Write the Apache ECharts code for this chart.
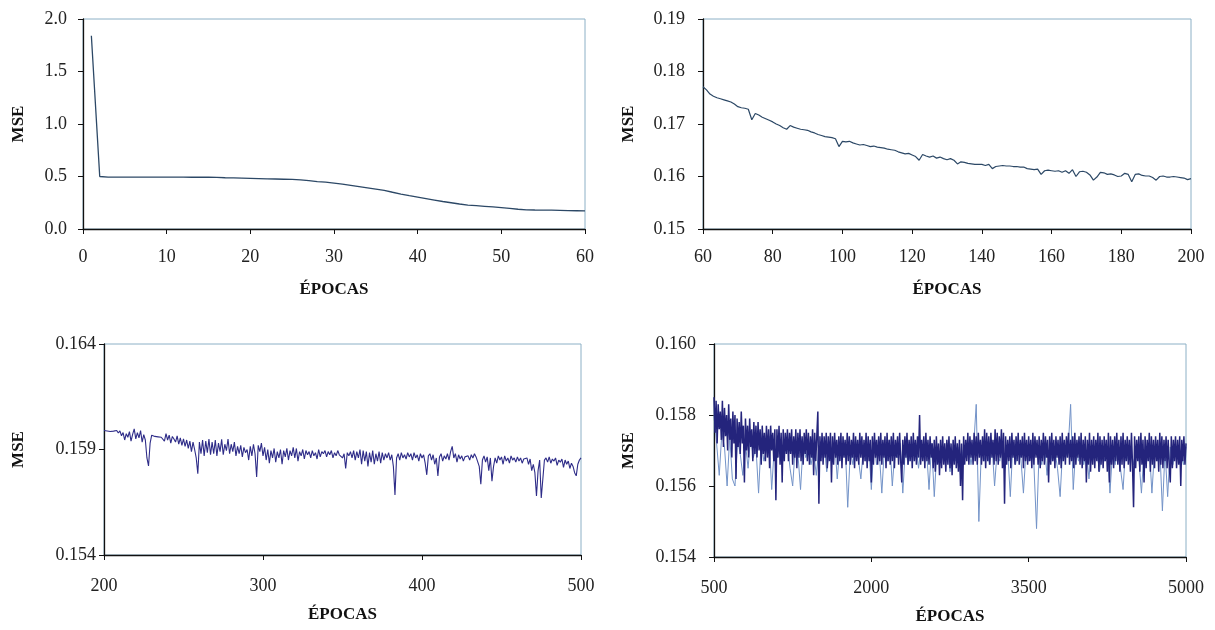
<!DOCTYPE html>
<html>
<head>
<meta charset="utf-8">
<script src="https://cdn.jsdelivr.net/npm/echarts@6/dist/echarts.min.js"></script>
<style>
html,body{margin:0;padding:0;background:#fff;}
#c{width:1215px;height:630px;}
</style>
</head>
<body>
<div id="c"></div>
<script>
// ---------- DATA ----------
// Panel 1: epochs 1..60
const p1Start = 1, p1Step = 1;
const p1Values = [1.84,0.50,0.495,0.495,0.495,0.495,0.495,0.494,0.494,0.494,
0.494,0.494,0.493,0.493,0.493,0.492,0.488,0.486,0.484,0.482,
0.480,0.478,0.476,0.474,0.472,0.468,0.460,0.452,0.446,0.437,
0.428,0.416,0.404,0.392,0.380,0.368,0.350,0.333,0.318,0.304,
0.290,0.276,0.262,0.250,0.238,0.228,0.222,0.216,0.210,0.204,
0.196,0.188,0.183,0.181,0.180,0.179,0.177,0.175,0.174,0.173];

// Panel 2: epochs 60..200
const p2Start = 60, p2Step = 1;
const p2Values = [.1771,.1765,.1757,.1753,.1750,.1748,.1746,.1744,.1742,.1738,
.1733,.1731,.1730,.1728,.1708,.1720,.1717,.1713,.1710,.1707,
.1704,.1700,.1697,.1693,.1690,.1697,.1694,.1692,.1690,.1689,
.1688,.1685,.1683,.1680,.1678,.1676,.1675,.1674,.1672,.1657,
.1667,.1666,.1667,.1664,.1662,.1660,.1661,.1659,.1657,.1658,
.1656,.1655,.1654,.1652,.1651,.1650,.1647,.1645,.1643,.1644,
.1641,.1638,.1631,.1642,.1639,.1637,.1639,.1635,.1637,.1634,
.1632,.1634,.1631,.1624,.1628,.1627,.1625,.1624,.1623,.1623,
.1623,.1621,.1623,.1615,.1619,.1620,.1621,.1620,.1620,.1619,
.1619,.1618,.1618,.1615,.1614,.1613,.1614,.1604,.1611,.1612,
.1611,.1610,.1611,.1608,.1611,.1606,.1613,.1600,.1609,.1610,
.1608,.1603,.1593,.1599,.1608,.1607,.1604,.1605,.1603,.1600,
.1601,.1606,.1604,.1590,.1604,.1605,.1602,.1601,.1601,.1598,
.1593,.1600,.1601,.1599,.1599,.1600,.1599,.1598,.1597,.1594,
.1596];

// Panel 3: epochs 200..500
const p3Start = 200, p3Step = 1;
const p3Values = [
.15990,.15992,.15988,.15991,.15985,.15990,.15987,.15982,.15990,.15978,
.15988,.15965,.15980,.15945,.15975,.15958,.15985,.15940,.15972,.15998,
.15950,.15980,.15955,.15990,.15935,.15970,.15945,.15860,.15822,.15930,
.15968,.15965,.15962,.15966,.15960,.15963,.15958,.15965,.15940,.15975,
.15945,.15968,.15930,.15962,.15950,.15935,.15965,.15925,.15955,.15920,
.15950,.15915,.15945,.15905,.15940,.15890,.15935,.15900,.15860,.15785,
.15935,.15880,.15945,.15870,.15940,.15885,.15950,.15875,.15935,.15880,
.15945,.15870,.15930,.15890,.15948,.15875,.15925,.15895,.15950,.15880,
.15925,.15890,.15935,.15870,.15915,.15880,.15920,.15865,.15910,.15885,
.15900,.15850,.15915,.15870,.15925,.15880,.15770,.15920,.15890,.15930,
.15870,.15910,.15850,.15900,.15835,.15895,.15860,.15905,.15840,.15890,
.15860,.15900,.15830,.15895,.15865,.15905,.15850,.15895,.15870,.15910,
.15860,.15905,.15845,.15890,.15870,.15900,.15855,.15895,.15875,.15890,
.15860,.15895,.15870,.15885,.15855,.15900,.15865,.15890,.15880,.15895,
.15865,.15890,.15875,.15895,.15860,.15885,.15870,.15895,.15875,.15880,
.15860,.15880,.15810,.15885,.15870,.15890,.15860,.15895,.15850,.15890,
.15860,.15900,.15830,.15895,.15845,.15890,.15820,.15885,.15840,.15895,
.15830,.15880,.15845,.15890,.15835,.15885,.15850,.15880,.15860,.15885,
.15850,.15875,.15820,.15685,.15860,.15880,.15850,.15885,.15860,.15875,
.15855,.15885,.15865,.15880,.15850,.15885,.15860,.15875,.15845,.15880,
.15860,.15875,.15835,.15780,.15870,.15880,.15850,.15875,.15830,.15860,
.15775,.15865,.15880,.15845,.15870,.15855,.15880,.15850,.15890,.15915,
.15860,.15880,.15840,.15875,.15855,.15870,.15845,.15865,.15860,.15870,
.15850,.15875,.15860,.15880,.15865,.15870,.15820,.15735,.15850,.15870,
.15840,.15865,.15800,.15860,.15750,.15820,.15860,.15835,.15870,.15850,
.15865,.15830,.15870,.15845,.15860,.15835,.15870,.15850,.15860,.15840,
.15865,.15845,.15860,.15835,.15855,.15850,.15860,.15830,.15855,.15800,
.15830,.15790,.15680,.15800,.15850,.15670,.15760,.15850,.15860,.15840,
.15865,.15835,.15855,.15845,.15860,.15825,.15850,.15840,.15855,.15815,
.15850,.15830,.15845,.15810,.15835,.15820,.15790,.15775,.15830,.15850,
.15860];

// Panel 4: epochs 500..5000, dark series every 10 epochs
const p4Start = 500, p4DarkStep = 10, p4LightStep = 25;
const p4Dark = [
.1585,.1575,.1584,.1572,.1583,.1576,.1581,.1573,.1584,.1571,
.1582,.1574,.1580,.1570,.1583,.1573,.1579,.1568,.1581,.1572,
.1580,.1562,.1579,.1571,.1578,.1569,.1581,.1572,.1577,.1561,
.1579,.1570,.1577,.1568,.1579,.1571,.1576,.1567,.1578,.1569,
.1577,.1568,.1578,.1570,.1576,.1566,.1577,.1569,.1575,.1567,
.1577,.1568,.1576,.1565,.1577,.1570,.1575,.1567,.1576,.1556,
.1576,.1568,.1577,.1566,.1575,.1561,.1576,.1567,.1575,.1569,
.1576,.1567,.1575,.1569,.1576,.1566,.1574,.1568,.1576,.1565,
.1575,.1568,.1576,.1567,.1574,.1566,.1575,.1569,.1576,.1567,
.1575,.1566,.1574,.1568,.1576,.1563,.1575,.1567,.1574,.1581,
.1555,.1574,.1567,.1575,.1566,.1574,.1568,.1575,.1565,.1574,
.1567,.1575,.1561,.1574,.1566,.1575,.1568,.1573,.1566,.1574,
.1567,.1575,.1565,.1574,.1568,.1573,.1566,.1575,.1567,.1574,
.1566,.1573,.1568,.1575,.1565,.1574,.1567,.1573,.1566,.1575,
.1568,.1574,.1566,.1573,.1567,.1575,.1565,.1574,.1567,.1573,
.1561,.1574,.1566,.1575,.1568,.1573,.1566,.1574,.1567,.1575,
.1566,.1573,.1568,.1574,.1565,.1575,.1567,.1573,.1566,.1574,
.1567,.1575,.1565,.1573,.1568,.1574,.1566,.1575,.1567,.1561,
.1573,.1566,.1574,.1568,.1575,.1566,.1573,.1567,.1574,.1565,
.1575,.1567,.1573,.1566,.1574,.1568,.1580,.1566,.1573,.1567,
.1574,.1565,.1575,.1567,.1573,.1566,.1574,.1568,.1572,.1565,
.1573,.1564,.1574,.1566,.1572,.1563,.1573,.1565,.1574,.1566,
.1572,.1564,.1573,.1566,.1574,.1565,.1572,.1563,.1573,.1566,
.1574,.1565,.1572,.1564,.1573,.1560,.1572,.1556,.1574,.1566,
.1573,.1567,.1575,.1566,.1574,.1568,.1573,.1566,.1575,.1567,
.1574,.1566,.1575,.1568,.1573,.1566,.1574,.1567,.1576,.1565,
.1575,.1567,.1574,.1566,.1575,.1568,.1573,.1566,.1576,.1567,
.1575,.1566,.1574,.1568,.1576,.1565,.1575,.1555,.1574,.1566,
.1573,.1567,.1574,.1565,.1575,.1568,.1573,.1566,.1574,.1567,
.1575,.1566,.1573,.1568,.1574,.1565,.1575,.1567,.1573,.1566,
.1574,.1567,.1573,.1565,.1575,.1566,.1574,.1568,.1573,.1566,
.1574,.1565,.1573,.1567,.1575,.1566,.1574,.1568,.1573,.1561,
.1574,.1566,.1575,.1567,.1573,.1565,.1574,.1568,.1573,.1566,
.1574,.1565,.1575,.1567,.1573,.1566,.1574,.1568,.1575,.1566,
.1573,.1567,.1574,.1565,.1575,.1566,.1573,.1568,.1574,.1566,
.1575,.1565,.1573,.1567,.1574,.1561,.1573,.1566,.1575,.1564,
.1573,.1566,.1574,.1565,.1573,.1567,.1575,.1564,.1574,.1566,
.1573,.1565,.1574,.1567,.1573,.1564,.1575,.1561,.1574,.1566,
.1573,.1565,.1574,.1567,.1575,.1566,.1573,.1564,.1574,.1566,
.1575,.1565,.1573,.1567,.1574,.1566,.1573,.1564,.1575,.1566,
.1554,.1574,.1565,.1573,.1567,.1574,.1564,.1575,.1566,.1573,
.1561,.1574,.1565,.1573,.1567,.1575,.1564,.1574,.1566,.1573,
.1565,.1574,.1567,.1573,.1564,.1575,.1566,.1574,.1565,.1573,
.1567,.1574,.1565,.1573,.1566,.1561,.1574,.1565,.1573,.1567,
.1574,.1565,.1573,.1566,.1574,.1560,.1573,.1567,.1574,.1566,
.1572];
// Panel 4: light series every 25 epochs
const p4Light = [
.1580,.1572,.1563,.1575,
.1571,.1560,.1574,.1562,
.1560,.1573,.1569,.1563,
.1572,.1565,.1574,.1568,
.1571,.1558,.1573,.1567,
.1570,.1574,.1559,.1571,
.1568,.1573,.1566,.1570,
.1572,.1565,.1560,.1571,
.1569,.1559,.1572,.1568,
.1571,.1566,.1570,.1563,
.1571,.1568,.1572,.1564,
.1570,.1567,.1573,.1562,
.1571,.1568,.1572,.1554,
.1570,.1566,.1573,.1568,
.1562,.1571,.1567,.1572,
.1559,.1572,.1566,.1570,
.1558,.1571,.1567,.1573,
.1560,.1570,.1568,.1572,
.1558,.1571,.1566,.1570,
.1569,.1572,.1565,.1571,
.1568,.1571,.1559,.1572,
.1557,.1570,.1566,.1571,
.1569,.1572,.1564,.1570,
.1567,.1571,.1563,.1570,
.1568,.1572,.1566,.1571,
.1583,.1550,.1571,.1567,
.1571,.1566,.1572,.1560,
.1570,.1567,.1571,.1565,
.1570,.1557,.1572,.1566,
.1571,.1568,.1558,.1570,
.1567,.1571,.1566,.1548,
.1570,.1566,.1572,.1563,
.1571,.1567,.1570,.1565,
.1557,.1571,.1568,.1570,
.1583,.1559,.1571,.1567,
.1571,.1566,.1570,.1562,
.1571,.1568,.1570,.1564,
.1570,.1567,.1571,.1558,
.1570,.1566,.1572,.1565,
.1559,.1571,.1567,.1570,
.1566,.1571,.1568,.1558,
.1570,.1567,.1571,.1558,
.1570,.1567,.1571,.1553,
.1570,.1557,.1571,.1566,
.1571,.1568,.1570,.1566,
.1571];

// Tick labels
const p1XTicks = [0,10,20,30,40,50,60];
const p1YTicks = [0.0,0.5,1.0,1.5,2.0];
const p2XTicks = [60,80,100,120,140,160,180,200];
const p2YTicks = [0.15,0.16,0.17,0.18,0.19];
const p3XTicks = [200,300,400,500];
const p3YTicks = [0.154,0.159,0.164];
const p4XTicks = [500,2000,3500,5000];
const p4YTicks = [0.154,0.156,0.158,0.160];

const xName = 'ÉPOCAS';
const yName = 'MSE';

// ---------- BUILD ----------
function pairs(start, step, vals){ return vals.map((v,i)=>[start+i*step, v]); }

const FONT = 'Liberation Serif';
const txt = {fontFamily: FONT, fontSize: 18, color: '#222'};
const nameTxt = {fontFamily: FONT, fontSize: 17, fontWeight: 'bold', color: '#111'};

function xAxis(gi, ticks, dec, gap, margin){
  return {
    type:'value', gridIndex: gi, min: ticks[0], max: ticks[ticks.length-1],
    name: xName, nameLocation:'middle', nameGap: gap, nameTextStyle: nameTxt,
    axisLine:{show:true, onZero:false, lineStyle:{color:'#111', width:1.3}},
    axisTick:{show:true, length:5, customValues: ticks, lineStyle:{color:'#111'}},
    axisLabel:{customValues: ticks, margin: margin, ...txt, formatter: v => Number(v).toFixed(dec)},
    splitLine:{show:false}
  };
}
function yAxis(gi, ticks, dec, gap, margin){
  return {
    type:'value', gridIndex: gi, min: ticks[0], max: ticks[ticks.length-1],
    name: yName, nameLocation:'middle', nameGap: gap, nameRotate: 90, nameTextStyle: nameTxt,
    axisLine:{show:true, onZero:false, lineStyle:{color:'#111', width:1.3}},
    axisTick:{show:true, length:5, customValues: ticks, lineStyle:{color:'#111'}},
    axisLabel:{customValues: ticks, margin: margin, ...txt, formatter: v => Number(v).toFixed(dec)},
    splitLine:{show:false}
  };
}

const gridBase = {show:true, borderColor:'#8cb0c6', borderWidth:1, backgroundColor:'#fff', containLabel:false};

const option = {
  backgroundColor:'#fff',
  animation:false,
  grid:[
    {...gridBase, left:83, top:19, width:502, height:210},
    {...gridBase, left:703, top:19, width:488, height:210},
    {...gridBase, left:104, top:344, width:477, height:211},
    {...gridBase, left:714, top:344, width:472, height:213}
  ],
  xAxis:[
    xAxis(0, p1XTicks, 0, 52, 19),
    xAxis(1, p2XTicks, 0, 52, 19),
    xAxis(2, p3XTicks, 0, 51, 22),
    xAxis(3, p4XTicks, 0, 51, 22)
  ],
  yAxis:[
    yAxis(0, p1YTicks, 1, 56, 16),
    yAxis(1, p2YTicks, 2, 66, 18),
    yAxis(2, p3YTicks, 3, 77, 8),
    yAxis(3, p4YTicks, 3, 77, 18)
  ],
  series:[
    {type:'line', xAxisIndex:0, yAxisIndex:0, data: pairs(p1Start,p1Step,p1Values), showSymbol:false, lineStyle:{color:'#2c4866', width:1.3}},
    {type:'line', xAxisIndex:1, yAxisIndex:1, data: pairs(p2Start,p2Step,p2Values), showSymbol:false, lineStyle:{color:'#2c4866', width:1.2}},
    {type:'line', xAxisIndex:2, yAxisIndex:2, data: pairs(p3Start,p3Step,p3Values), showSymbol:false, lineStyle:{color:'#2e2c88', width:1.1}},
    {type:'line', xAxisIndex:3, yAxisIndex:3, data: pairs(p4Start,p4LightStep,p4Light), showSymbol:false, lineStyle:{color:'#7393c8', width:1}},
    {type:'line', xAxisIndex:3, yAxisIndex:3, data: pairs(p4Start,p4DarkStep,p4Dark), showSymbol:false, lineStyle:{color:'#24247c', width:1.5}}
  ]
};

const chart = echarts.init(document.getElementById('c'), null, {renderer:'canvas'});
chart.setOption(option);
</script>
</body>
</html>
